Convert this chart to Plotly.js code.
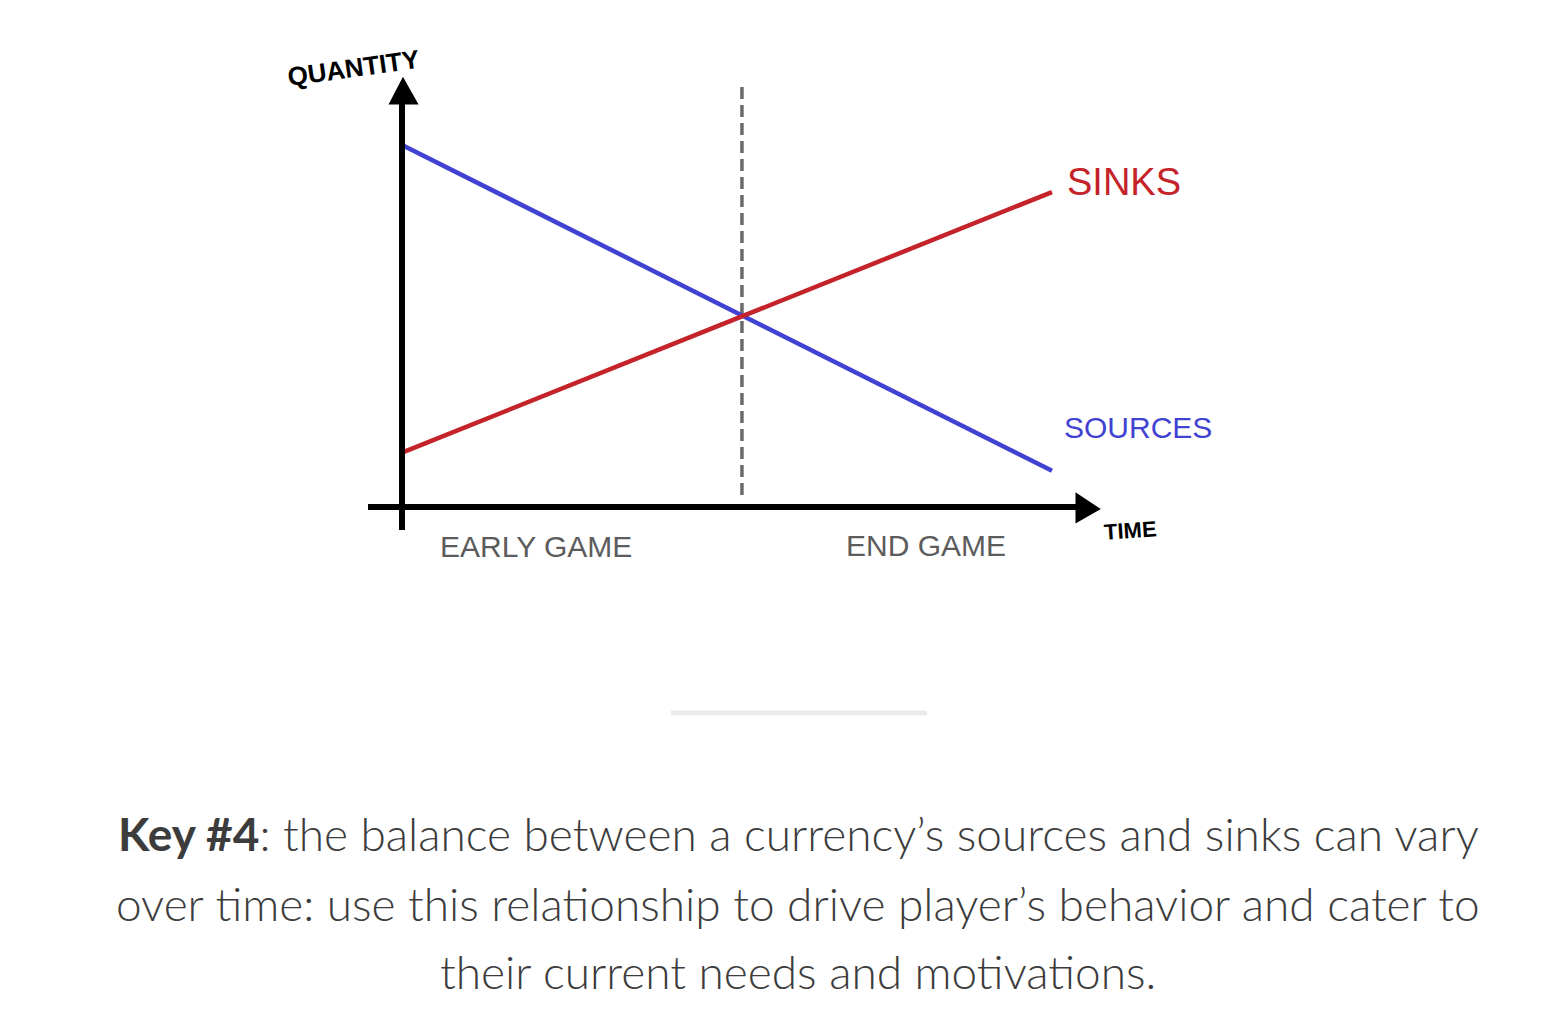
<!DOCTYPE html>
<html>
<head>
<meta charset="utf-8">
<script src="https://cdn.plot.ly/plotly-3.0.1.min.js"></script>
<style>
  html, body { margin: 0; padding: 0; background: #ffffff; }
  #chart { width: 1556px; height: 1036px; }
</style>
</head>
<body>
<div id="chart"></div>
<script>
// ---- data ----
const time = [0, 10];
const sources = [10.0, 1.0];
const sinks = [1.5, 8.7];
const phaseLabels = ['EARLY GAME', 'END GAME'];
const phaseTimes = [2.06, 8.06];
const splitTime = 5.23;
const seriesNames = ['SOURCES', 'SINKS'];
const captionLines = [
  '<b>Key #4</b>: the balance between a currency\u2019s sources and sinks can vary',
  'over time: use this relationship to drive player\u2019s behavior and cater to',
  'their current needs and motivations.'
];

// ---- layout geometry (pixel mapping) ----
const W = 1556, H = 1036;
const x0px = 402, pxPerT = 65;     // time 0 at x=402
const y0px = 507, pxPerQ = 36.2;   // quantity 0 at y=507
const xRange = [-x0px / pxPerT, (W - x0px) / pxPerT];
const yRange = [(y0px - H) / pxPerQ, y0px / pxPerQ];
const tOf = px => (px - x0px) / pxPerT;
const qOf = py => (y0px - py) / pxPerQ;
const PX = x => x / W;
const PY = y => 1 - y / H;

const blue = '#4242d2';
const red = '#c4232a';
const hand = 'Liberation Sans, Arial, sans-serif';

const traces = [
  { x: time, y: sources, mode: 'lines', name: seriesNames[0],
    line: { color: blue, width: 4.5 }, hoverinfo: 'skip' },
  { x: time, y: sinks, mode: 'lines', name: seriesNames[1],
    line: { color: red, width: 4.5 }, hoverinfo: 'skip' }
];

const shapes = [
  // dashed split line
  { type: 'line', xref: 'x', yref: 'y', x0: splitTime, x1: splitTime,
    y0: qOf(495), y1: qOf(82), line: { color: '#6a6a6a', width: 3.5, dash: '12px,6px' }, layer: 'below' },
  // y axis
  { type: 'line', xref: 'x', yref: 'y', x0: 0, x1: 0, y0: qOf(530), y1: qOf(95),
    line: { color: '#000', width: 6 } },
  // x axis
  { type: 'line', xref: 'x', yref: 'y', x0: tOf(368), x1: tOf(1085), y0: 0, y1: 0,
    line: { color: '#000', width: 6 } },
  // y arrow head
  { type: 'path', xref: 'x', yref: 'y',
    path: `M ${tOf(403)} ${qOf(80)} L ${tOf(391)} ${qOf(103)} L ${tOf(416)} ${qOf(103)} Z`,
    fillcolor: '#000', line: { color: '#000', width: 3 } },
  // x arrow head
  { type: 'path', xref: 'x', yref: 'y',
    path: `M ${tOf(1098)} ${qOf(509)} L ${tOf(1077)} ${qOf(495)} L ${tOf(1077)} ${qOf(521)} Z`,
    fillcolor: '#000', line: { color: '#000', width: 3 } },
  // separator
  { type: 'line', xref: 'paper', yref: 'paper', x0: PX(671), x1: PX(927), y0: PY(713), y1: PY(713),
    line: { color: '#ebebeb', width: 5 } }
];

const C = { xanchor: 'center', yanchor: 'middle', showarrow: false };

const annotations = [
  Object.assign({ xref: 'paper', yref: 'paper', x: PX(353), y: PY(68), text: 'QUANTITY',
    textangle: -8, font: { family: hand, size: 26, color: '#000', weight: 700 } }, C),
  Object.assign({ xref: 'x', yref: 'y', x: time[1], y: sinks[1], xshift: 72, yshift: 10, text: seriesNames[1],
    font: { family: hand, size: 38, color: red } }, C),
  Object.assign({ xref: 'x', yref: 'y', x: time[1], y: sources[1], xshift: 86, yshift: 43, text: seriesNames[0],
    font: { family: hand, size: 30, color: blue } }, C),
  Object.assign({ xref: 'paper', yref: 'paper', x: PX(1130), y: PY(530), text: 'TIME',
    textangle: -4, font: { family: hand, size: 22, color: '#000', weight: 700 } }, C),
  Object.assign({ xref: 'x', yref: 'paper', x: phaseTimes[0], y: PY(546), text: phaseLabels[0],
    font: { family: hand, size: 30, color: '#5c5c5c' } }, C),
  Object.assign({ xref: 'x', yref: 'paper', x: phaseTimes[1], y: PY(545), text: phaseLabels[1],
    font: { family: hand, size: 30, color: '#5c5c5c' } }, C)
];

const captionY = [833, 903, 971];
captionLines.forEach((t, i) => {
  annotations.push(Object.assign({ xref: 'paper', yref: 'paper', x: PX(798), y: PY(captionY[i]), text: t,
    font: { family: 'Lato, Open Sans, sans-serif', size: 46, color: '#3c3c3c', weight: 300 } }, C));
});

const layout = {
  width: W, height: H,
  margin: { l: 0, r: 0, t: 0, b: 0, pad: 0 },
  paper_bgcolor: '#ffffff', plot_bgcolor: '#ffffff',
  showlegend: false,
  xaxis: { range: xRange, visible: false, fixedrange: true },
  yaxis: { range: yRange, visible: false, fixedrange: true },
  shapes: shapes,
  annotations: annotations
};

Plotly.newPlot('chart', traces, layout, { displayModeBar: false, staticPlot: true });
</script>
</body>
</html>
